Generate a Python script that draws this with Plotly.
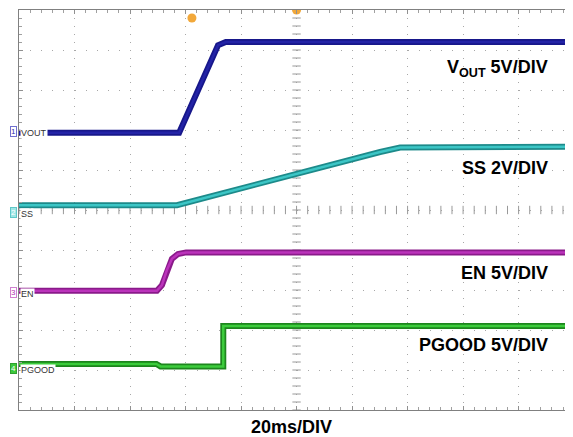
import numpy as np
import plotly.graph_objects as go

# ---- data (time in ms, amplitude in screen divisions from bottom) ----
T_END = 199.6
vout_t = [0, 57.7, 71.7, 74.5, 199.6]
vout_v = [6.93, 6.93, 9.12, 9.2, 9.2]
ss_t = [0, 56.9, 130.1, 137.3, 199.6]
ss_v = [5.12, 5.12, 6.45, 6.56, 6.58]
en_t = [0, 49.7, 51.5, 53.3, 55.1, 57.3, 60.2, 199.6]
en_v = [2.98, 2.98, 3.12, 3.5, 3.78, 3.9, 3.94, 3.94]
pg_t = [0, 49.5, 51.0, 73.6, 73.6, 199.6]
pg_v = [1.15, 1.15, 1.09, 1.09, 2.1, 2.1]

ch_nums = ["1", "2", "3", "4"]
ch_names = ["VOUT", "SS", "EN", "PGOOD"]
ch_ground = [6.975, 4.95, 2.95, 1.05]
scale_labels = ["V<sub>OUT</sub> 5V/DIV", "SS 2V/DIV", "EN 5V/DIV", "PGOOD 5V/DIV"]
scale_label_y = [8.55, 6.05, 3.43, 1.63]
time_label = "20ms/DIV"

outer = ["#17178a", "#1d8a8a", "#8a1a8a", "#1d861d"]
inner = ["#2323a6", "#3cc6c6", "#bb33bb", "#3ccc3c"]
box_bg = ["#ffffff", "#9fe6e6", "#ffffff", "#3cc83c"]
box_border = ["#7070d0", "#60c8c8", "#d080d0", "#30a030"]
box_font = ["#3030b0", "#ffffff", "#b030b0", "#ffffff"]

# page offset compensation (browser body margin of 8px)
OFF = 8

fig = go.Figure()

# centre crosshair tick marks
hx = np.arange(0, 200.01, 4)
fig.add_trace(go.Scatter(x=hx, y=[5] * len(hx), mode="markers", hoverinfo="skip",
                         marker=dict(symbol="line-ns", size=6, line=dict(width=1, color="#999999")),
                         showlegend=False))
vy = np.arange(0, 10.01, 0.2)
fig.add_trace(go.Scatter(x=[100] * len(vy), y=vy, mode="markers", hoverinfo="skip",
                         marker=dict(symbol="line-ew", size=6, line=dict(width=1, color="#999999")),
                         showlegend=False))

series = [(vout_t, vout_v), (ss_t, ss_v), (en_t, en_v), (pg_t, pg_v)]
for i, (t, v) in enumerate(series):
    fig.add_trace(go.Scatter(x=t, y=v, mode="lines", line=dict(color=outer[i], width=6),
                             showlegend=False, hoverinfo="skip"))
    fig.add_trace(go.Scatter(x=t, y=v, mode="lines", line=dict(color=inner[i], width=2.5),
                             showlegend=False, hoverinfo="skip"))

# trigger markers
fig.add_trace(go.Scatter(x=[62.3], y=[9.8], mode="markers", showlegend=False, hoverinfo="skip",
                         marker=dict(symbol="circle", size=9, color="#f2a83a")))
fig.add_trace(go.Scatter(x=[100], y=[10], mode="markers", showlegend=False, hoverinfo="skip",
                         marker=dict(symbol="circle", size=9, color="#f2a83a")))
fig.add_trace(go.Scatter(x=[199.3], y=[7.8], mode="markers", showlegend=False, hoverinfo="skip",
                         marker=dict(symbol="circle", size=5, color="#3a3ac8")))

PLOT_W = 554.0
ann = []
for i in range(4):
    ann.append(dict(xref="paper", yref="y", x=(13 - 19) / PLOT_W, y=ch_ground[i], text=ch_nums[i],
                    showarrow=False, font=dict(size=8, color=box_font[i], family="Liberation Sans, Arial"),
                    bgcolor=box_bg[i], bordercolor=box_border[i], borderwidth=1, borderpad=0,
                    xanchor="center", yanchor="middle"))
    ann.append(dict(xref="paper", yref="y", x=(20 - 19) / PLOT_W, y=ch_ground[i] - 0.05, text=ch_names[i],
                    showarrow=False, font=dict(size=9, color="#333333", family="Liberation Sans, Arial"),
                    bgcolor="#ffffff", borderpad=0,
                    xanchor="left", yanchor="middle"))
    ann.append(dict(xref="x", yref="y", x=191.4, y=scale_label_y[i], text="<b>" + scale_labels[i] + "</b>",
                    showarrow=False, font=dict(size=18, color="#000000", family="Liberation Sans, Arial"),
                    xanchor="right", yanchor="middle"))
ann.append(dict(xref="paper", yref="paper", x=(291.5 - 19) / PLOT_W, y=-17 / 400, text="<b>" + time_label + "</b>",
                showarrow=False, font=dict(size=18, color="#000000", family="Liberation Sans, Arial"),
                xanchor="center", yanchor="middle"))

fig.update_layout(
    width=573 - OFF, height=437 - OFF,
    margin=dict(l=19 - OFF, r=0, t=10 - OFF, b=27),
    plot_bgcolor="white", paper_bgcolor="white",
    annotations=ann,
    xaxis=dict(range=[0, T_END], dtick=20, tick0=0, showticklabels=False,
               showgrid=True, gridcolor="#a8a8a8", griddash="1px,7px", gridwidth=1,
               showline=True, linecolor="#808080", linewidth=1, mirror="allticks",
               ticks="inside", ticklen=4, tickcolor="#909090",
               minor=dict(dtick=4, ticks="inside", ticklen=3, tickcolor="#a0a0a0", showgrid=False),
               zeroline=False, fixedrange=True),
    yaxis=dict(range=[0, 10], dtick=1, tick0=0, showticklabels=False,
               showgrid=True, gridcolor="#a8a8a8", griddash="1px,10.1px", gridwidth=1,
               showline=True, linecolor="#808080", linewidth=1, mirror="allticks",
               ticks="inside", ticklen=4, tickcolor="#909090",
               minor=dict(dtick=0.2, ticks="inside", ticklen=3, tickcolor="#a0a0a0", showgrid=False),
               zeroline=False, fixedrange=True),
)

fig.write_html("out.html")
